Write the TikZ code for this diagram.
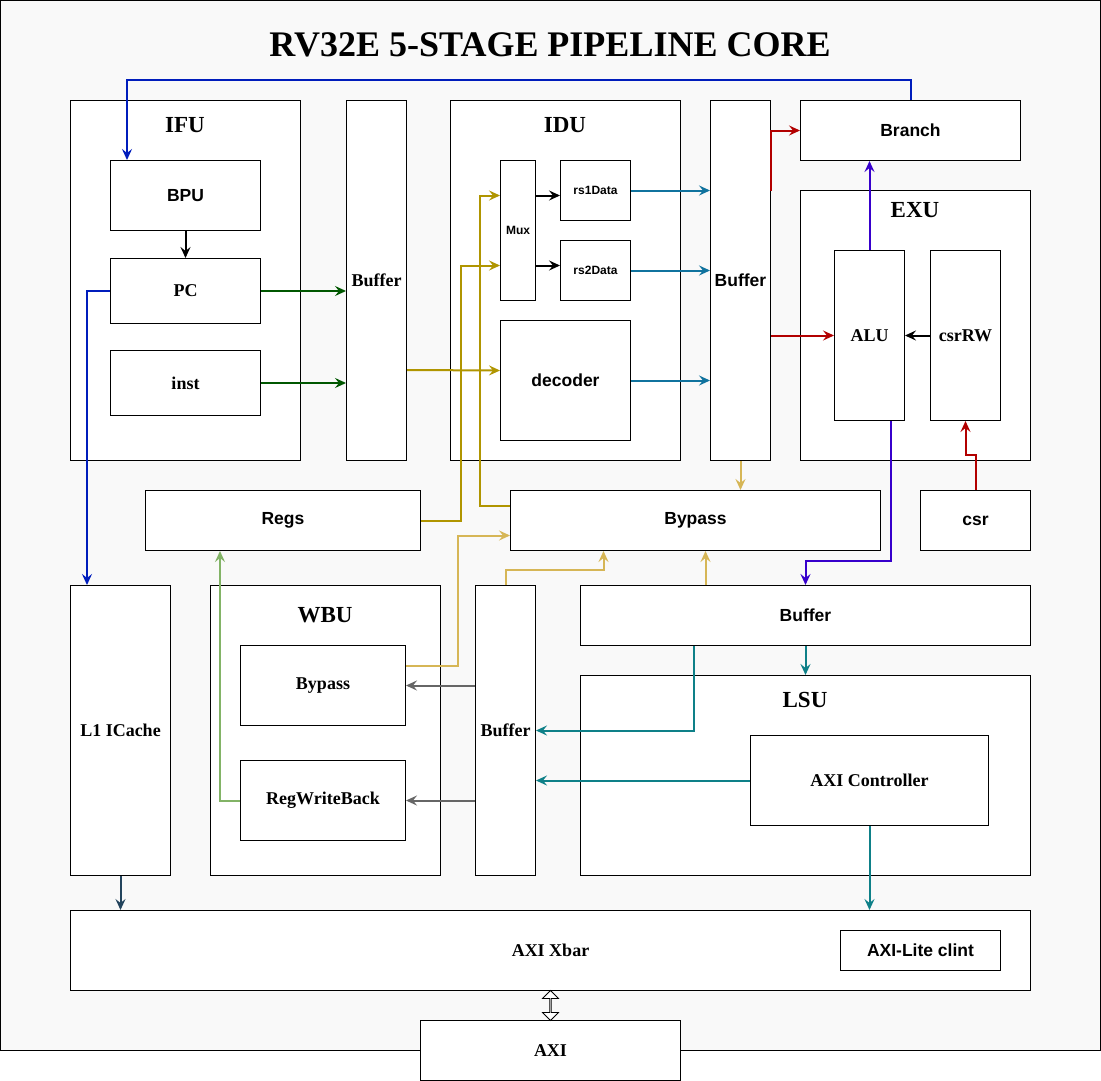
\documentclass[tikz,border=0pt]{standalone}
\usepackage{fontspec}
\setmainfont{Liberation Serif}
\setsansfont{Liberation Sans}
\usetikzlibrary{arrows.meta, shapes.arrows, calc}
\definecolor{bgc}{HTML}{F9F9F9}
\definecolor{ylw}{HTML}{B09500}
\definecolor{lylw}{HTML}{D6B656}
\definecolor{jmpblue}{HTML}{001DBC}
\definecolor{aluviolet}{HTML}{3700CC}
\definecolor{ctlred}{HTML}{B20000}
\definecolor{ifgreen}{HTML}{005700}
\definecolor{idblue}{HTML}{10739E}
\definecolor{lsuteal}{HTML}{0E8088}
\definecolor{wbgray}{HTML}{666666}
\definecolor{wbgreen}{HTML}{82B366}
\definecolor{icslate}{HTML}{23445D}

\begin{document}
\begin{tikzpicture}[x=1pt, y=-1pt,
  blk/.style={draw, fill=white, line width=1pt, inner sep=0pt, anchor=north west,
    font=\bfseries\fontsize{18}{20}\selectfont},
  sblk/.style={blk, font=\sffamily\bfseries\fontsize{17.5}{20}\selectfont},
  tblk/.style={blk, font=\sffamily\bfseries\fontsize{12}{14}\selectfont},
  unit/.style={font=\bfseries\fontsize{23}{26}\selectfont},
  wire/.style={line width=2pt, -{Stealth[length=11pt, width=10pt, inset=4pt]}}]
  \useasboundingbox (0,0) rectangle (1101,1081);
  \node[draw, fill=bgc, line width=1pt, anchor=north west, inner sep=0pt,
    minimum width=1100, minimum height=1050] (core) at (0,0) {};
  \node[font=\bfseries\fontsize{36}{40}\selectfont] (title) at (550,45) {RV32E 5-STAGE PIPELINE CORE};

  \node[blk, minimum width=230, minimum height=360] (ifu) at (70,100) {};
  \node[unit] (ifut) at (185,125) {IFU};
  \node[sblk, minimum width=150, minimum height=70] (bpu) at (110,160) {BPU};
  \node[blk, minimum width=150, minimum height=65] (pc) at (110,258) {PC};
  \node[blk, minimum width=150, minimum height=65] (inst) at (110,350) {inst};
  \node[blk, minimum width=60, minimum height=360] (buf1) at (346,100) {Buffer};

  \node[blk, minimum width=230, minimum height=360] (idu) at (450,100) {};
  \node[unit] (idut) at (565,125) {IDU};
  \node[tblk, minimum width=35, minimum height=140] (mux) at (500,160) {Mux};
  \node[tblk, minimum width=70, minimum height=60] (rs1) at (560,160) {rs1Data};
  \node[tblk, minimum width=70, minimum height=60] (rs2) at (560,240) {rs2Data};
  \node[sblk, minimum width=130, minimum height=120] (dec) at (500,320) {decoder};
  \node[sblk, minimum width=60, minimum height=360] (buf2) at (710,100) {Buffer};

  \node[sblk, minimum width=220, minimum height=60] (branch) at (800,100) {Branch};
  \node[blk, minimum width=230, minimum height=270] (exu) at (800,190) {};
  \node[unit] (exut) at (915,210) {EXU};
  \node[blk, minimum width=70, minimum height=170] (alu) at (834,250) {ALU};
  \node[blk, minimum width=70, minimum height=170] (csrrw) at (930,250) {csrRW};

  \node[sblk, minimum width=275, minimum height=60] (regs) at (145,490) {Regs};
  \node[sblk, minimum width=370, minimum height=60] (byp) at (510,490) {Bypass};
  \node[sblk, minimum width=110, minimum height=60] (csr) at (920,490) {csr};

  \node[blk, minimum width=100, minimum height=290] (ic) at (70,585) {L1 ICache};
  \node[blk, minimum width=230, minimum height=290] (wbu) at (210,585) {};
  \node[unit] (wbut) at (325,615) {WBU};
  \node[blk, minimum width=165, minimum height=80] (wbyp) at (240,645) {Bypass};
  \node[blk, minimum width=165, minimum height=80] (rwb) at (240,760) {RegWriteBack};
  \node[blk, minimum width=60, minimum height=290] (buf3) at (475,585) {Buffer};
  \node[sblk, minimum width=450, minimum height=60] (buf4) at (580,585) {Buffer};
  \node[blk, minimum width=450, minimum height=200] (lsu) at (580,675) {};
  \node[unit] (lsut) at (805,700) {LSU};
  \node[blk, minimum width=238, minimum height=90] (axic) at (750,735) {AXI Controller};

  \node[blk, minimum width=960, minimum height=80] (xbar) at (70,910) {AXI Xbar};
  \node[sblk, minimum width=160, minimum height=40] (clint) at (840,930) {AXI-Lite clint};
  \node[blk, minimum width=260, minimum height=60] (axi) at (420,1020) {AXI};

  % fetch
  \draw[wire] (bpu) -- (pc);
  \draw[wire, ifgreen] (pc.east) -- (pc.east -| buf1.west);
  \draw[wire, ifgreen] (inst.east) -- (inst.east -| buf1.west);
  \draw[wire, jmpblue] (branch.north) -- ++(0,-20) -| ([xshift=17pt]bpu.north west);
  \draw[wire, jmpblue] (pc.west) -| ([xshift=17pt]ic.north west);

  % decode
  \draw[wire, ylw] (buf1.east |- 0,370) -- ([yshift=10pt]dec.west);
  \draw[wire, ylw] (regs.east) -- ++(40,0) |- ([yshift=-35pt]mux.west);
  \draw[wire, ylw] ([yshift=15pt]byp.west) -- ++(-30,0) |- ([yshift=35pt]mux.west);
  \draw[wire] ([yshift=35pt]mux.east) -- ([yshift=35pt]mux.east -| rs1.west);
  \draw[wire] ([yshift=-35pt]mux.east) -- ([yshift=-35pt]mux.east -| rs2.west);
  \draw[wire, idblue] (rs1.east) -- (rs1.east -| buf2.west);
  \draw[wire, idblue] (rs2.east) -- (rs2.east -| buf2.west);
  \draw[wire, idblue] (dec.east) -- (dec.east -| buf2.west);

  % execute
  \draw[wire, ctlred] ([yshift=90pt]buf2.east) |- (branch.west);
  \draw[wire, ctlred] (buf2.east |- alu.west) -- (alu.west);
  \draw[wire] (csrrw.west) -- (alu.east);
  \draw[wire, ctlred] (csr.north) -- ++(0,-35) -| (csrrw.south);
  \draw[wire, aluviolet] (alu.north) -- (alu.north |- branch.south);
  \draw[wire, aluviolet] ([xshift=21pt]alu.south) -- ++(0,140) -| (buf4.north);

  % bypass
  \draw[wire, lylw] (buf2.south) -- (buf2.south |- byp.north);
  \draw[wire, lylw] ([yshift=20pt]wbyp.east) -- ++(52,0) |- ([yshift=-15pt]byp.west);
  \draw[wire, lylw] (buf3.north) -- ++(0,-15) -| ([xshift=-92pt]byp.south);
  \draw[wire, lylw] ([xshift=-100pt]buf4.north) -- ([xshift=-100pt]buf4.north |- byp.south);

  % memory and write back
  \draw[wire, lsuteal] (buf4.south) -- (lsu.north);
  \draw[wire, lsuteal] ([xshift=-112pt]buf4.south) |- (buf3.east);
  \draw[wire, lsuteal] (axic.west) -- (axic.west -| buf3.east);
  \draw[wire, lsuteal] (axic.south) -- (axic.south |- xbar.north);
  \draw[wire, wbgray] (wbyp.east -| buf3.west) -- (wbyp.east);
  \draw[wire, wbgray] (rwb.east -| buf3.west) -- (rwb.east);
  \draw[wire, wbgreen] (rwb.west) -- ++(-20,0) -| ([xshift=75pt]regs.south west);
  \draw[wire, icslate] (ic.south) -- (ic.south |- xbar.north);
  \node[draw, fill=white, line width=0.8pt, double arrow, shape border rotate=90, inner sep=0pt,
    minimum height=30, minimum width=16, double arrow head extend=4pt]
    (bus) at ($(xbar.south)!0.5!(axi.north)$) {};
\end{tikzpicture}
\end{document}
